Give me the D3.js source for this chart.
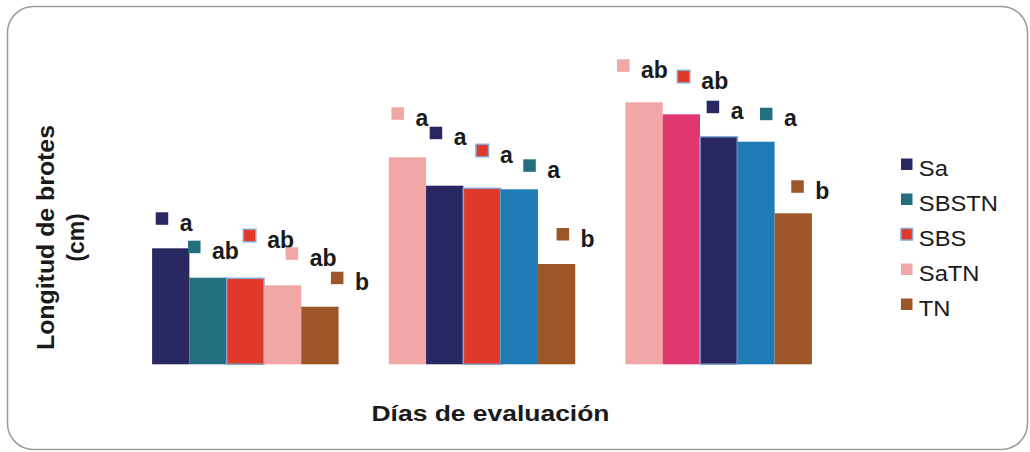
<!DOCTYPE html>
<html>
<head>
<meta charset="utf-8">
<script src="https://cdn.jsdelivr.net/npm/d3@7"></script>
<style>
  html, body { margin: 0; padding: 0; background: #fff; }
  svg { display: block; font-family: "Liberation Sans", Arial, sans-serif; }
</style>
</head>
<body>
<div id="chart"></div>
<script>
// Data (no tick labels on the original, units in cm)
const days = ['1', '2', '3'];
const series = ['Sa', 'SBSTN', 'SBS', 'SaTN', 'TN'];
// order of the treatments inside each group, left to right
const barOrder = [
  ['Sa', 'SBSTN', 'SBS', 'SaTN', 'TN'],
  ['SaTN', 'Sa', 'SBS', 'SBSTN', 'TN'],
  ['SaTN', 'SBS', 'Sa', 'SBSTN', 'TN']
];
const values = [
  [11.6, 8.66, 8.6, 7.9, 5.76],
  [20.7, 17.86, 17.6, 17.5, 10.03],
  [26.2, 25.0, 22.76, 22.26, 15.1]
];
const letters = [
  ['a', 'ab', 'ab', 'ab', 'b'],
  ['a', 'a', 'a', 'a', 'b'],
  ['ab', 'ab', 'a', 'a', 'b']
];

// Styles
const seriesColor = {
  Sa: '#2A2862', SBSTN: '#236F80', SBS: '#E0392A', SaTN: '#F0A7A5', TN: '#9C5628'
};
// bar fills differ from the legend in the original for some bars
const barFill = [
  ['#2A2862', '#236F80', '#E0392A', '#F0A7A5', '#9C5628'],
  ['#F0A7A5', '#2A2862', '#E0392A', '#1F7BB6', '#9C5628'],
  ['#F0A7A5', '#DF376E', '#2A2862', '#1F7BB6', '#9C5628']
];
const outlineColor = '#86A8D4';
// label nudges (marker left from bar centre, marker top from bar top), px
const labelNudge = [
  [[-15, -36], [-20, -37], [-2, -49], [3, -38], [11, -35]],
  [[-16, -50], [-15, -59], [-6, -44], [4, -30], [0, -36]],
  [[-27, -43], [-4, -44], [-12, -36], [4, -34], [-2, -33]]
];

const width = 1030;
const height = 452;

const svg = d3.select('#chart')
  .append('svg')
  .attr('width', width)
  .attr('height', height);

// rounded frame
svg.append('rect')
  .attr('x', 7.5)
  .attr('y', 6.5)
  .attr('width', 1020)
  .attr('height', 443)
  .attr('rx', 26)
  .attr('fill', '#fff')
  .attr('stroke', '#9a9a9a')
  .attr('stroke-width', 1.5);

// Scales
const x0 = d3.scaleBand()
  .domain(days)
  .range([127, 837])
  .paddingInner(0.212)
  .paddingOuter(0.106);

const x1 = d3.scaleBand()
  .domain(d3.range(5))
  .range([0, x0.bandwidth()]);

const y = d3.scaleLinear()
  .domain([0, 30])
  .range([364.3, 64.3]);

const groups = svg.append('g')
  .selectAll('g')
  .data(days)
  .join('g')
  .attr('transform', d => `translate(${x0(d)},0)`);

// Bars
groups.each(function(day, gi) {
  const g = d3.select(this);
  const rows = values[gi].map((v, i) => ({ i, v, s: barOrder[gi][i], letter: letters[gi][i] }));

  g.selectAll('rect.bar')
    .data(rows)
    .join('rect')
    .attr('class', 'bar')
    .attr('x', d => x1(d.i))
    .attr('y', d => y(d.v))
    .attr('width', x1.bandwidth())
    .attr('height', d => y(0) - y(d.v))
    .attr('fill', d => barFill[gi][d.i])
    .attr('stroke', d => d.i === 2 ? outlineColor : 'none')
    .attr('stroke-width', 1.5);

  // significance labels: small square + letter
  const lab = g.selectAll('g.lab')
    .data(rows)
    .join('g')
    .attr('class', 'lab')
    .attr('transform', d => {
      const n = labelNudge[gi][d.i];
      return `translate(${x1(d.i) + x1.bandwidth() / 2 + n[0]},${y(d.v) + n[1]})`;
    });

  lab.append('rect')
    .attr('width', 12.5)
    .attr('height', 12.5)
    .attr('fill', d => seriesColor[d.s])
    .attr('stroke', d => d.s === 'SBS' ? outlineColor : 'none')
    .attr('stroke-width', 1.5);

  lab.append('text')
    .attr('x', 24)
    .attr('y', 18.5)
    .attr('fill', '#1a1a1a')
    .attr('font-size', '23px')
    .attr('font-weight', 'bold')
    .text(d => d.letter);
});

// Legend
const legend = svg.append('g')
  .attr('transform', 'translate(901,158.5)');

const item = legend.selectAll('g')
  .data(series)
  .join('g')
  .attr('transform', (d, i) => `translate(0,${i * 35})`);

item.append('rect')
  .attr('width', 11.5)
  .attr('height', 11.5)
  .attr('fill', d => seriesColor[d])
  .attr('stroke', d => d === 'SBS' ? outlineColor : 'none')
  .attr('stroke-width', 1.5);

item.append('text')
  .attr('x', 16.5)
  .attr('y', 17.5)
  .attr('fill', '#1a1a1a')
  .attr('font-size', '22px')
  .attr('transform', 'scale(1.08,1)')
  .text(d => d);

// Axis titles
svg.append('text')
  .attr('x', 490.5)
  .attr('y', 421)
  .attr('text-anchor', 'middle')
  .attr('fill', '#1a1a1a')
  .attr('font-size', '22px')
  .attr('font-weight', 'bold')
  .attr('textLength', 238)
  .attr('lengthAdjust', 'spacingAndGlyphs')
  .text('Días de evaluación');

const yTitle = svg.append('text')
  .attr('transform', 'translate(53.5,237.5) rotate(-90)')
  .attr('text-anchor', 'middle')
  .attr('fill', '#1a1a1a')
  .attr('font-size', '23px')
  .attr('font-weight', 'bold');

yTitle.append('tspan')
  .attr('x', 0)
  .attr('y', 0)
  .attr('textLength', 225)
  .attr('lengthAdjust', 'spacingAndGlyphs')
  .text('Longitud de brotes');

yTitle.append('tspan')
  .attr('x', 0)
  .attr('y', 30)
  .text('(cm)');
</script>
</body>
</html>
